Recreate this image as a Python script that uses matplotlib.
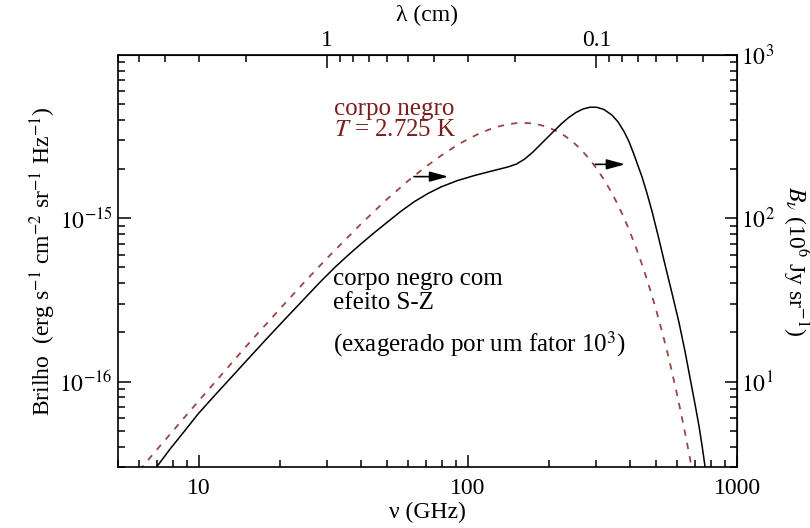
import matplotlib
matplotlib.use('Agg')
import matplotlib.pyplot as plt
from matplotlib.ticker import NullFormatter

plt.rcParams['font.family'] = ['Liberation Serif', 'DejaVu Serif']
plt.rcParams['mathtext.fontset'] = 'stix'
plt.rcParams['font.size'] = 17

#---------------- corpo negro T = 2.725 K (tracejado) ----------------#
nu_bb = [6, 7, 8, 10, 12, 15, 20, 25, 30, 40, 50, 60, 70, 80, 90, 100, 110,
         120, 130, 140, 150, 160, 170, 180, 190, 200, 215, 230, 245, 260, 280,
         300, 320, 340, 360, 380, 400, 420, 440, 460, 480, 500, 525, 550, 575,
         600, 625, 650, 680]
i_bb = [2.86e-17, 3.86e-17, 4.99e-17, 7.66e-17, 1.08e-16, 1.65e-16, 2.79e-16,
        4.17e-16, 5.72e-16, 9.23e-16, 1.31e-15, 1.70e-15, 2.08e-15, 2.44e-15,
        2.77e-15, 3.06e-15, 3.30e-15, 3.50e-15, 3.65e-15, 3.76e-15, 3.82e-15,
        3.84e-15, 3.82e-15, 3.77e-15, 3.69e-15, 3.59e-15, 3.40e-15, 3.18e-15,
        2.94e-15, 2.69e-15, 2.35e-15, 2.03e-15, 1.73e-15, 1.46e-15, 1.22e-15,
        1.01e-15, 8.24e-16, 6.70e-16, 5.42e-16, 4.35e-16, 3.48e-16, 2.76e-16,
        2.06e-16, 1.53e-16, 1.12e-16, 8.20e-17, 5.96e-17, 4.32e-17, 2.92e-17]

#---------------- corpo negro com efeito S-Z (linha cheia) ----------------#
nu_sz = [6.97, 7.82, 8.82, 9.94, 11.51, 13.20, 15.11, 17.68, 20.64, 24.10,
         28.36, 31.99, 35.77, 39.99, 44.71, 50.43, 56.39, 63.05, 71.10, 79.52,
         91.24, 105.6, 122.2, 141.4, 151.5, 162.2, 173.8, 187.8, 210.0, 223.0,
         236.8, 251.5, 267.0, 283.6, 301.1, 319.7, 342.5, 360.6, 379.7, 396.3,
         413.7, 443.3, 462.8, 483.1, 508.6, 540.2, 573.7, 609.2, 641.4, 669.5,
         699.0, 723.4, 742.3, 761.6]
i_sz = [3.01e-17, 3.88e-17, 4.96e-17, 6.36e-17, 8.32e-17, 1.064e-16, 1.358e-16,
        1.800e-16, 2.364e-16, 3.096e-16, 4.108e-16, 5.005e-16, 5.929e-16,
        6.965e-16, 8.137e-16, 9.545e-16, 1.106e-15, 1.262e-15, 1.421e-15,
        1.558e-15, 1.701e-15, 1.828e-15, 1.945e-15, 2.067e-15, 2.150e-15,
        2.302e-15, 2.533e-15, 2.877e-15, 3.456e-15, 3.805e-15, 4.142e-15,
        4.439e-15, 4.664e-15, 4.786e-15, 4.786e-15, 4.644e-15, 4.291e-15,
        3.909e-15, 3.413e-15, 2.963e-15, 2.466e-15, 1.797e-15, 1.423e-15,
        1.104e-15, 7.865e-16, 5.192e-16, 3.462e-16, 2.286e-16, 1.521e-16,
        1.046e-16, 7.195e-17, 5.273e-17, 4.003e-17, 2.976e-17]

# setas (inicio, fim, altura)
arrows = [(63.0, 84.5, 1.80e-15), (297, 384, 2.14e-15)]

fig = plt.figure(figsize=(8.1, 5.28), dpi=100)
ax = fig.add_axes([118/810, 61/528, 619/810, 412/528])

ax.plot(nu_bb, i_bb, color='#9a4545', lw=1.3, linestyle=(0, (3.5, 4)))
ax.plot(nu_sz, i_sz, color='k', lw=1.1)

ax.set_xscale('log')
ax.set_yscale('log')
ax.set_xlim(5, 1000)
ax.set_ylim(3e-17, 1e-14)

ax.set_xticks([10, 100, 1000], labels=['10', '100', '1000'])
ax.set_yticks([1e-16, 1e-15], labels=[r'$10^{-16}$', r'$10^{-15}$'])
ax.xaxis.set_minor_formatter(NullFormatter())
ax.yaxis.set_minor_formatter(NullFormatter())
ax.tick_params(which='both', direction='in', top=False, right=False, width=1.1)
ax.tick_params(which='major', length=9)
ax.tick_params(which='minor', length=5)
ax.tick_params(axis='x', which='major', pad=8)
ax.tick_params(axis='y', which='major', pad=4)
for s in ax.spines.values():
    s.set_linewidth(1.2)

ax.set_xlabel('ν (GHz)', labelpad=2)
ax.set_ylabel(r'Brilho  (erg s$^{-1}$ cm$^{-2}$ sr$^{-1}$ Hz$^{-1}$)', labelpad=1)

# eixo superior: lambda (cm)
top = ax.secondary_xaxis('top', functions=(lambda x: 30.0/x, lambda x: 30.0/x))
top.set_xticks([1, 0.1], labels=['1', '0.1'])
top.xaxis.set_minor_formatter(NullFormatter())
top.tick_params(which='both', direction='in', width=1.1)
top.tick_params(which='major', length=9, pad=3)
top.tick_params(which='minor', length=5)
top.set_xlabel('λ (cm)', labelpad=6)

# eixo direito: B_nu (10^6 Jy sr^-1)
right = ax.secondary_yaxis('right', functions=(lambda y: y*1e17, lambda y: y/1e17))
right.set_yticks([10, 100, 1000], labels=[r'$10^1$', r'$10^2$', r'$10^3$'])
right.yaxis.set_minor_formatter(NullFormatter())
right.tick_params(which='both', direction='in', width=1.1)
right.tick_params(which='major', length=9, pad=3)
right.tick_params(which='minor', length=5)
right.set_ylabel(r'$B_\nu$ (10$^6$ Jy sr$^{-1}$)', rotation=270, labelpad=26)

# textos
red = '#7a1e1e'
ax.text(31.7, 4.66e-15, 'corpo negro', color=red, ha='left', va='center', fontsize=18)
ax.text(31.7, 3.46e-15, r'$T$ = 2.725 K', color=red, ha='left', va='center', fontsize=18)
ax.text(31.4, 4.22e-16, 'corpo negro com', ha='left', va='center', fontsize=18)
ax.text(31.4, 3.05e-16, 'efeito S-Z', ha='left', va='center', fontsize=18)
ax.text(31.4, 1.69e-16, r'(exagerado por um fator 10$^3$)', ha='left', va='center',
        fontsize=18)

for x0, x1, yy in arrows:
    ax.annotate('', xy=(x1, yy), xytext=(x0, yy),
                arrowprops=dict(arrowstyle='-|>,head_length=0.8,head_width=0.22',
                                color='k', lw=1.2, mutation_scale=14,
                                shrinkA=0, shrinkB=0))

fig.savefig('out.png', dpi=100)
